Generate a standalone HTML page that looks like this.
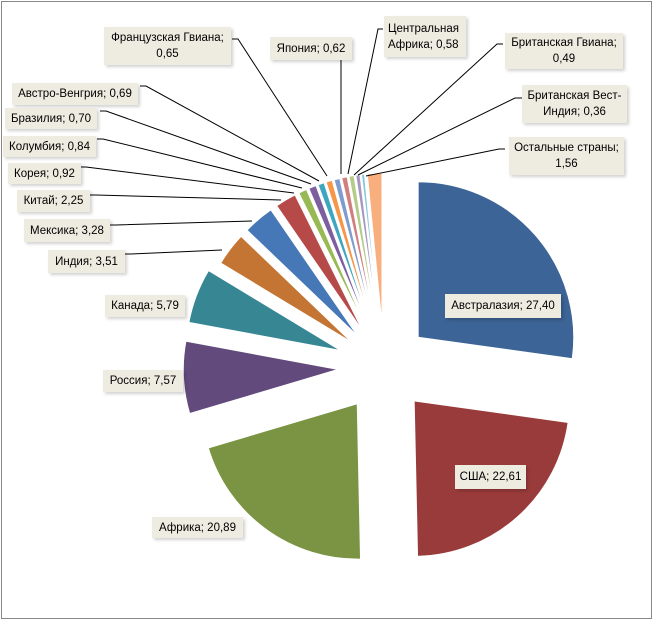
<!DOCTYPE html>
<html><head><meta charset="utf-8"><style>
html,body{margin:0;padding:0;background:#fff}
#w{position:relative;width:654px;height:621px;overflow:hidden}
.b{position:absolute;background:#EEECE1;font-family:"Liberation Sans",sans-serif;font-size:11.5px;color:#000;text-align:center;line-height:16px;box-shadow:2px 2px 3px rgba(0,0,0,0.18);white-space:nowrap;display:flex;align-items:center;justify-content:center;flex-direction:column}
</style></head><body><div id="w">
<svg id="s" width="654" height="621" style="position:absolute;left:0;top:0">
<rect x="1.5" y="1.5" width="650" height="617" fill="#fff" stroke="#888" stroke-width="1"/>
<g id="p"></g>
<g fill="none" stroke="#000" stroke-width="1" id="L">
<polyline points="232,39 238,39 327,176"/>
<polyline points="341,60 341,174"/>
<polyline points="383,29 378,29 348,174"/>
<polyline points="503,44 497,44 354,175"/>
<polyline points="522,98 515,98 358,175"/>
<polyline points="505,149 499,149 366,176"/>
<polyline points="140,86 146,86 319,181"/>
<polyline points="100,111 106,111 311,184"/>
<polyline points="97,139 103,139 302,188"/>
<polyline points="80,167 86,167 294,193"/>
<polyline points="90,195 96,195 281,200"/>
<polyline points="110,225 116,225 252,221"/>
<polyline points="125,254 131,254 222,250"/>
</g>
</svg>
<div class="b" style="left:104px;top:27px;width:127px;height:38px">Французская Гвиана;<span>0,65</span></div>
<div class="b" style="left:270px;top:37px;width:82px;height:23px">Япония; 0,62</div>
<div class="b" style="left:384px;top:16px;width:82px;height:41px;align-items:flex-start;padding-left:4px;box-sizing:border-box">Центральная<span>Африка; 0,58</span></div>
<div class="b" style="left:505px;top:33px;width:118px;height:36px">Британская Гвиана;<span>0,49</span></div>
<div class="b" style="left:522px;top:85px;width:105px;height:38px">Британская Вест-<span>Индия; 0,36</span></div>
<div class="b" style="left:509px;top:137px;width:115px;height:38px">Остальные страны;<span>1,56</span></div>
<div class="b" style="left:12px;top:83px;width:126px;height:22px">Австро-Венгрия; 0,69</div>
<div class="b" style="left:5px;top:108px;width:92px;height:21px">Бразилия; 0,70</div>
<div class="b" style="left:3px;top:136px;width:93px;height:21px">Колумбия; 0,84</div>
<div class="b" style="left:8px;top:163px;width:73px;height:21px">Корея; 0,92</div>
<div class="b" style="left:17px;top:190px;width:73px;height:22px">Китай; 2,25</div>
<div class="b" style="left:24px;top:219px;width:86px;height:23px">Мексика; 3,28</div>
<div class="b" style="left:48px;top:250px;width:77px;height:23px">Индия; 3,51</div>
<div class="b" style="left:105px;top:295px;width:80px;height:22px">Канада; 5,79</div>
<div class="b" style="left:103px;top:370px;width:80px;height:22px">Россия; 7,57</div>
<div class="b" style="left:152px;top:517px;width:91px;height:21px">Африка; 20,89</div>
<div class="b" style="left:445px;top:294px;width:116px;height:24px">Австралазия; 27,40</div>
<div class="b" style="left:455px;top:465px;width:71px;height:24px">США; 22,61</div>
</div>
<script>
var v=[27.40,22.61,20.89,7.57,5.79,3.51,3.28,2.25,0.92,0.84,0.70,0.69,0.65,0.62,0.58,0.49,0.36,1.56];
var c=["#3C6496","#9A3B3B","#7A9443","#624A7C","#378694","#C47533","#4677B6","#B64A48","#98B954","#7D5FA0","#3FA6C0","#F79646","#7F9CCF","#D27E7C","#B3CC8A","#A696C0","#87C7DA","#F9AE7D"];
var T=0;v.forEach(function(x){T+=x});
var cx=384,cy=367,r=156,a=0,h="";
function pt(x,y,ang,R){return [x+R*Math.sin(ang),y-R*Math.cos(ang)];}
for(var i=0;i<v.length;i++){
 var a0=a/T*2*Math.PI;a+=v[i];var a1=a/T*2*Math.PI;var m=(a0+a1)/2;
 var d=v[i]>5?45:38;
 var o=pt(cx,cy,m,d),p0=pt(o[0],o[1],a0,r),p1=pt(o[0],o[1],a1,r);
 var lg=(a1-a0)>Math.PI?1:0;
 h+='<path d="M'+o[0].toFixed(1)+','+o[1].toFixed(1)+'L'+p0[0].toFixed(1)+','+p0[1].toFixed(1)+'A'+r+','+r+' 0 '+lg+' 1 '+p1[0].toFixed(1)+','+p1[1].toFixed(1)+'Z" fill="'+c[i]+'" stroke="#fff" stroke-width="1.5"/>';
}
document.getElementById("p").innerHTML=h;
</script>
</body></html>
